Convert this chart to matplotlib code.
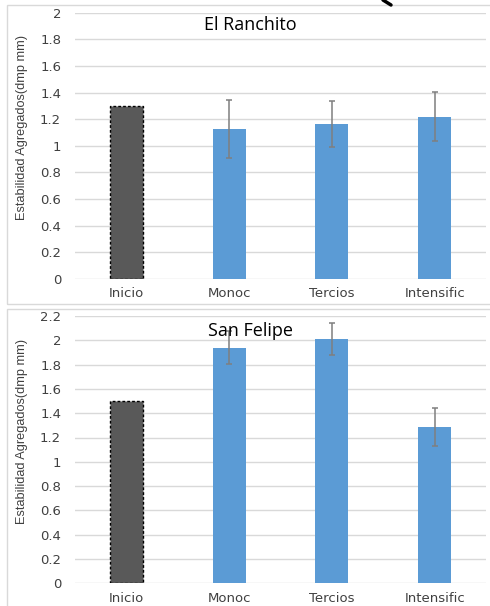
import matplotlib.pyplot as plt
from matplotlib.patches import Rectangle
from matplotlib.lines import Line2D

categories = ["Inicio", "Monoc", "Tercios", "Intensific"]
ranchito_vals = [1.30, 1.125, 1.165, 1.22]
ranchito_err = [0.0, 0.22, 0.17, 0.185]
felipe_vals = [1.50, 1.94, 2.01, 1.285]
felipe_err = [0.0, 0.135, 0.135, 0.155]
ylabel = "Estabilidad Agregados(dmp mm)"

blue = "#5B9BD5"
dark = "#595959"
grid_c = "#d9d9d9"
txt_c = "#404040"

fig = plt.figure(figsize=(4.9, 6.06), dpi=100)

# frames
fig.patches.append(Rectangle((7/490, 1-304/606), 1.2, 299/606, transform=fig.transFigure,
                             fill=False, edgecolor=grid_c, linewidth=1.0))
fig.patches.append(Rectangle((7/490, -0.05), 1.2, 1-309/606+0.05, transform=fig.transFigure,
                             fill=False, edgecolor=grid_c, linewidth=1.0))
# stray stroke at top edge
fig.lines.append(Line2D([383/490, 391/490], [1.0, 1-5/606], transform=fig.transFigure,
                        color="black", linewidth=2.5, solid_capstyle="round"))

def panel(rect, vals, errs, ymax, title, title_y):
    ax = fig.add_axes(rect)
    x = list(range(len(categories)))
    colors = [dark] + [blue]*(len(categories)-1)
    bars = ax.bar(x, vals, width=0.32, color=colors, zorder=2)
    bars[0].set_edgecolor("black")
    bars[0].set_linestyle((0, (2, 1.5)))
    bars[0].set_linewidth(1.0)
    ex = x[1:]
    ax.errorbar(ex, vals[1:], yerr=errs[1:], fmt="none", ecolor="#7f7f7f",
                elinewidth=1.1, capsize=2.5, capthick=1.1, zorder=3)
    ax.set_xlim(-0.5, len(categories)-0.5)
    ax.set_ylim(0, ymax)
    ticks = [round(0.2*i, 1) for i in range(int(round(ymax/0.2))+1)]
    ax.set_yticks(ticks)
    ax.set_yticklabels([("%g" % t) for t in ticks], fontsize=9.5, color=txt_c,
                       family="DejaVu Sans")
    ax.set_xticks(x)
    ax.set_xticklabels(categories, fontsize=9.5, color=txt_c, family="DejaVu Sans")
    ax.tick_params(length=0, pad=6)
    ax.tick_params(axis="y", pad=10)
    ax.grid(axis="y", color=grid_c, linewidth=1.0, zorder=0)
    ax.set_axisbelow(True)
    for s in ax.spines.values():
        s.set_visible(False)
    ax.text(0.426, title_y, title, transform=ax.transAxes, ha="center", va="center",
            fontsize=13, family="Open Sans", color="black", zorder=5)
    fig.text(22/490, rect[1]+rect[3]*0.57, ylabel, rotation=90, ha="center", va="center",
             fontsize=9.2, color=txt_c, family="Liberation Sans")
    return ax

panel([75/490, 1-279/606, 411/490, (279-12.7)/606], ranchito_vals, ranchito_err, 2.0,
      "El Ranchito", 0.955)
panel([75/490, 1-583.3/606, 411/490, (583.3-316)/606], felipe_vals, felipe_err, 2.2,
      "San Felipe", 0.945)

fig.savefig("out.png", dpi=100)
